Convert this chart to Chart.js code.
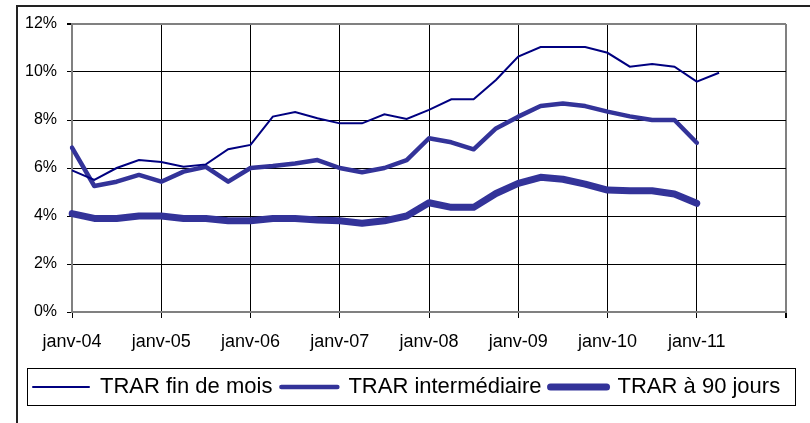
<!DOCTYPE html>
<html>
<head>
<meta charset="utf-8">
<script src="https://cdn.jsdelivr.net/npm/chart.js@4/dist/chart.umd.min.js"></script>
<style>
  body { margin: 0; background: #fff; }
</style>
</head>
<body>
<canvas id="myChart" width="810" height="423"></canvas>
<script>
// Quarterly categories, janv-04 up to janv-12 (the last one is only the right edge)
var quarters = [
    "janv-04", "avr-04", "juil-04", "oct-04",
    "janv-05", "avr-05", "juil-05", "oct-05",
    "janv-06", "avr-06", "juil-06", "oct-06",
    "janv-07", "avr-07", "juil-07", "oct-07",
    "janv-08", "avr-08", "juil-08", "oct-08",
    "janv-09", "avr-09", "juil-09", "oct-09",
    "janv-10", "avr-10", "juil-10", "oct-10",
    "janv-11", "avr-11", "juil-11", "oct-11",
    "janv-12"
];

// Labels that are actually written under the axis
var shownLabels = ["janv-04", "janv-05", "janv-06", "janv-07", "janv-08", "janv-09", "janv-10", "janv-11"];

// Values in %
var finDeMois = [5.9, 5.5, 6.0, 6.33, 6.25, 6.05, 6.15, 6.78, 6.96, 8.14,
                 8.33, 8.07, 7.86, 7.86, 8.24, 8.04, 8.42, 8.86, 8.86, 9.67,
                 10.64, 11.04, 11.04, 11.04, 10.8, 10.22, 10.33, 10.22, 9.6, 9.97];

var intermediaire = [6.85, 5.25, 5.43, 5.71, 5.43, 5.85, 6.05, 5.43, 6.0, 6.08,
                     6.19, 6.33, 6.0, 5.82, 6.0, 6.33, 7.24, 7.07, 6.78, 7.65,
                     8.14, 8.58, 8.69, 8.58, 8.35, 8.15, 8.0, 8.0, 7.05];

var quatreVingtDix = [4.1, 3.9, 3.9, 4.0, 4.0, 3.9, 3.9, 3.8, 3.8, 3.9,
                      3.9, 3.83, 3.8, 3.7, 3.8, 4.0, 4.55, 4.36, 4.36, 4.94,
                      5.36, 5.61, 5.53, 5.33, 5.08, 5.05, 5.05, 4.92, 4.53];

var yTicks = [0, 2, 4, 6, 8, 10, 12];

var font = "'Liberation Sans', Arial, sans-serif";
var legendPadding = 9;
var legendStart = 33;   // where the first legend sample should begin

// white background, outer border and the frame round the legend
var framePlugin = {
    id: "frames",
    afterLayout: function(chart) {
        // move the legend row so it starts where the reference one does
        var lg = chart.legend;
        if (!lg || !lg.lineWidths) return;
        var start = (lg.left + legendPadding + lg.right - lg.lineWidths[0]) / 2;
        var shift = legendStart - start;
        lg.left += shift;
        lg.right += shift;
    },
    beforeDraw: function(chart) {
        var ctx = chart.ctx;
        ctx.save();
        ctx.fillStyle = "#fff";
        ctx.fillRect(0, 0, chart.width, chart.height);
        ctx.strokeStyle = "#222";
        ctx.lineWidth = 2;
        ctx.strokeRect(17, 6, chart.width + 40, chart.height + 40);
        ctx.restore();
    },
    afterDraw: function(chart) {
        var lg = chart.legend;
        if (!lg || !lg.legendHitBoxes.length) return;
        var boxes = lg.legendHitBoxes;
        var left = boxes[0].left - 6;
        var last = boxes[boxes.length - 1];
        var right = last.left + last.width + 15;
        var top = boxes[0].top - 8;
        var bottom = boxes[0].top + boxes[0].height + 7;
        var ctx = chart.ctx;
        ctx.save();
        ctx.strokeStyle = "#000";
        ctx.lineWidth = 1;
        ctx.strokeRect(Math.round(left) + 0.5, Math.round(top) + 0.5, Math.round(right - left), Math.round(bottom - top));
        ctx.restore();
    }
};

new Chart("myChart", {
    type: "line",
    data: {
        labels: quarters,
        datasets: [{
            label: "TRAR fin de mois",
            data: finDeMois,
            borderColor: "#000080",
            borderWidth: 2,
            pointRadius: 0,
            tension: 0
        }, {
            label: "TRAR intermédiaire",
            data: intermediaire,
            borderColor: "#333399",
            borderWidth: 4.5,
            borderCapStyle: "round",
            borderJoinStyle: "round",
            pointRadius: 0,
            tension: 0
        }, {
            label: "TRAR à 90 jours",
            data: quatreVingtDix,
            borderColor: "#333399",
            borderWidth: 7,
            borderCapStyle: "round",
            borderJoinStyle: "round",
            pointRadius: 0,
            tension: 0
        }]
    },
    options: {
        responsive: false,
        animation: false,
        layout: { padding: { left: 0, right: 24, top: 24, bottom: 15 } },
        plugins: {
            tooltip: { enabled: false },
            legend: {
                position: "bottom",
                labels: {
                    color: "#000",
                    font: { family: font, size: 22 },
                    usePointStyle: true,
                    pointStyleWidth: 56,
                    boxHeight: 22,
                    padding: legendPadding,
                    generateLabels: function(chart) {
                        return chart.data.datasets.map(function(ds, i) {
                            return {
                                text: ds.label,
                                fillStyle: ds.borderColor,
                                strokeStyle: ds.borderColor,
                                lineWidth: ds.borderWidth,
                                lineCap: "round",
                                pointStyle: "line",
                                fontColor: "#000",
                                datasetIndex: i
                            };
                        });
                    }
                }
            }
        },
        scales: {
            x: {
                afterFit: function(scale) { scale.height = 55; },
                border: { color: "#808080", width: 2 },
                grid: {
                    color: function(c) {
                        if (c.index === quarters.length - 1) return "#808080";
                        if (c.index === 0) return "rgba(0,0,0,0)";
                        return c.index % 4 === 0 ? "#000" : "rgba(0,0,0,0)";
                    },
                    lineWidth: function(c) { return c.index === quarters.length - 1 ? 2 : 1; },
                    tickColor: function(c) { return c.index % 4 === 0 ? "#000" : "rgba(0,0,0,0)"; },
                    tickLength: 6
                },
                ticks: {
                    autoSkip: false,
                    maxRotation: 0,
                    padding: 13,
                    color: "#000",
                    font: { family: font, size: 18 },
                    callback: function(v, i) {
                        var lab = quarters[i];
                        return shownLabels.indexOf(lab) >= 0 ? lab : "";
                    }
                }
            },
            y: {
                min: yTicks[0],
                max: yTicks[yTicks.length - 1],
                afterFit: function(scale) { scale.width = 72; },
                border: { color: "#808080", width: 2 },
                grid: {
                    color: function(c) {
                        var v = c.tick ? c.tick.value : 0;
                        return (v === 12 || v === 0) ? "#808080" : "#000";
                    },
                    lineWidth: function(c) {
                        var v = c.tick ? c.tick.value : 0;
                        return v === 12 ? 2 : 1;
                    },
                    tickColor: "#000",
                    tickLength: 5
                },
                ticks: {
                    stepSize: 2,
                    padding: 10,
                    color: "#000",
                    font: { family: font, size: 16 },
                    callback: function(v) { return v + "%"; }
                }
            }
        }
    },
    plugins: [framePlugin]
});
</script>
</body>
</html>
